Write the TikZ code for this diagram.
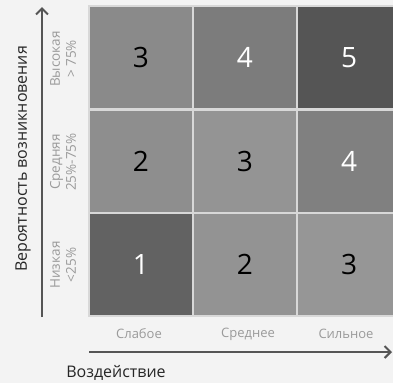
\documentclass[tikz,border=0pt]{standalone}
\usepackage{fontspec}
\setmainfont{Open Sans}
\usetikzlibrary{arrows.meta}
\definecolor{bg}{HTML}{F3F3F3}
\definecolor{axis}{HTML}{555555}
\definecolor{lbl}{HTML}{9A9A9A}
\definecolor{gridln}{HTML}{D8D8D8}
\tikzset{
  cell/.style={draw=gridln, line width=1.2pt, minimum width=104pt, minimum height=103pt, inner sep=0pt, font=\fontsize{28}{28}\selectfont},
  rowlbl/.style={rotate=90, align=center, text=lbl, font=\fontsize{13.5}{16}\selectfont, inner sep=0pt},
  collbl/.style={text=lbl, font=\fontsize{13}{14}\selectfont, inner sep=0pt},
  axisarrow/.style={draw=axis, line width=2.4pt, -{Straight Barb[length=6pt,width=12pt,line width=2pt]}}
}
\begin{document}
\begin{tikzpicture}[x=1pt,y=-1pt]
\fill[bg] (0,0) rectangle (393,383);
\useasboundingbox (0,0) rectangle (393,383);
% cells
\node[cell, fill={rgb,255:red,138;green,138;blue,138}, text=black] (c13) at (141,57.5) {3};
\node[cell, fill={rgb,255:red,124;green,124;blue,124}, text=white] (c23) at (245,57.5) {4};
\node[cell, fill={rgb,255:red,85;green,85;blue,85}, text=white] (c33) at (349,57.5) {5};
\node[cell, fill={rgb,255:red,142;green,142;blue,142}, text=black] (c12) at (141,161.5) {2};
\node[cell, fill={rgb,255:red,148;green,148;blue,148}, text=black] (c22) at (245,161.5) {3};
\node[cell, fill={rgb,255:red,128;green,128;blue,128}, text=white] (c32) at (349,161.5) {4};
\node[cell, fill={rgb,255:red,98;green,98;blue,98}, text=white] (c11) at (141,264.5) {1};
\node[cell, fill={rgb,255:red,147;green,147;blue,147}, text=black] (c21) at (245,264.5) {2};
\node[cell, fill={rgb,255:red,150;green,150;blue,150}, text=black] (c31) at (349,264.5) {3};
% row labels
\node[rowlbl] (r3) at (63,59) {Высокая\\> 75\%};
\node[rowlbl] (r2) at (63,162) {Средняя\\25\%-75\%};
\node[rowlbl] (r1) at (63,265) {Низкая\\<25\%};
% column labels
\node[collbl] (k1) at (139,334) {Слабое};
\node[collbl] (k2) at (248,334) {Среднее};
\node[collbl] (k3) at (346,334) {Сильное};
% axes
\coordinate (ya) at (42,317);
\coordinate (yb) at (42,7);
\coordinate (xa) at (89,352);
\coordinate (xb) at (392,352);
\draw[axisarrow] (ya) -- (yb);
\draw[axisarrow] (xa) -- (xb);
\node[rotate=90, font=\fontsize{16}{16}\selectfont, text=black!85] (ylab) at (23,159) {Вероятность возникновения};
\node[font=\fontsize{16}{16}\selectfont, text=black!85] (xlab) at (116,373) {Воздействие};
\end{tikzpicture}
\end{document}
